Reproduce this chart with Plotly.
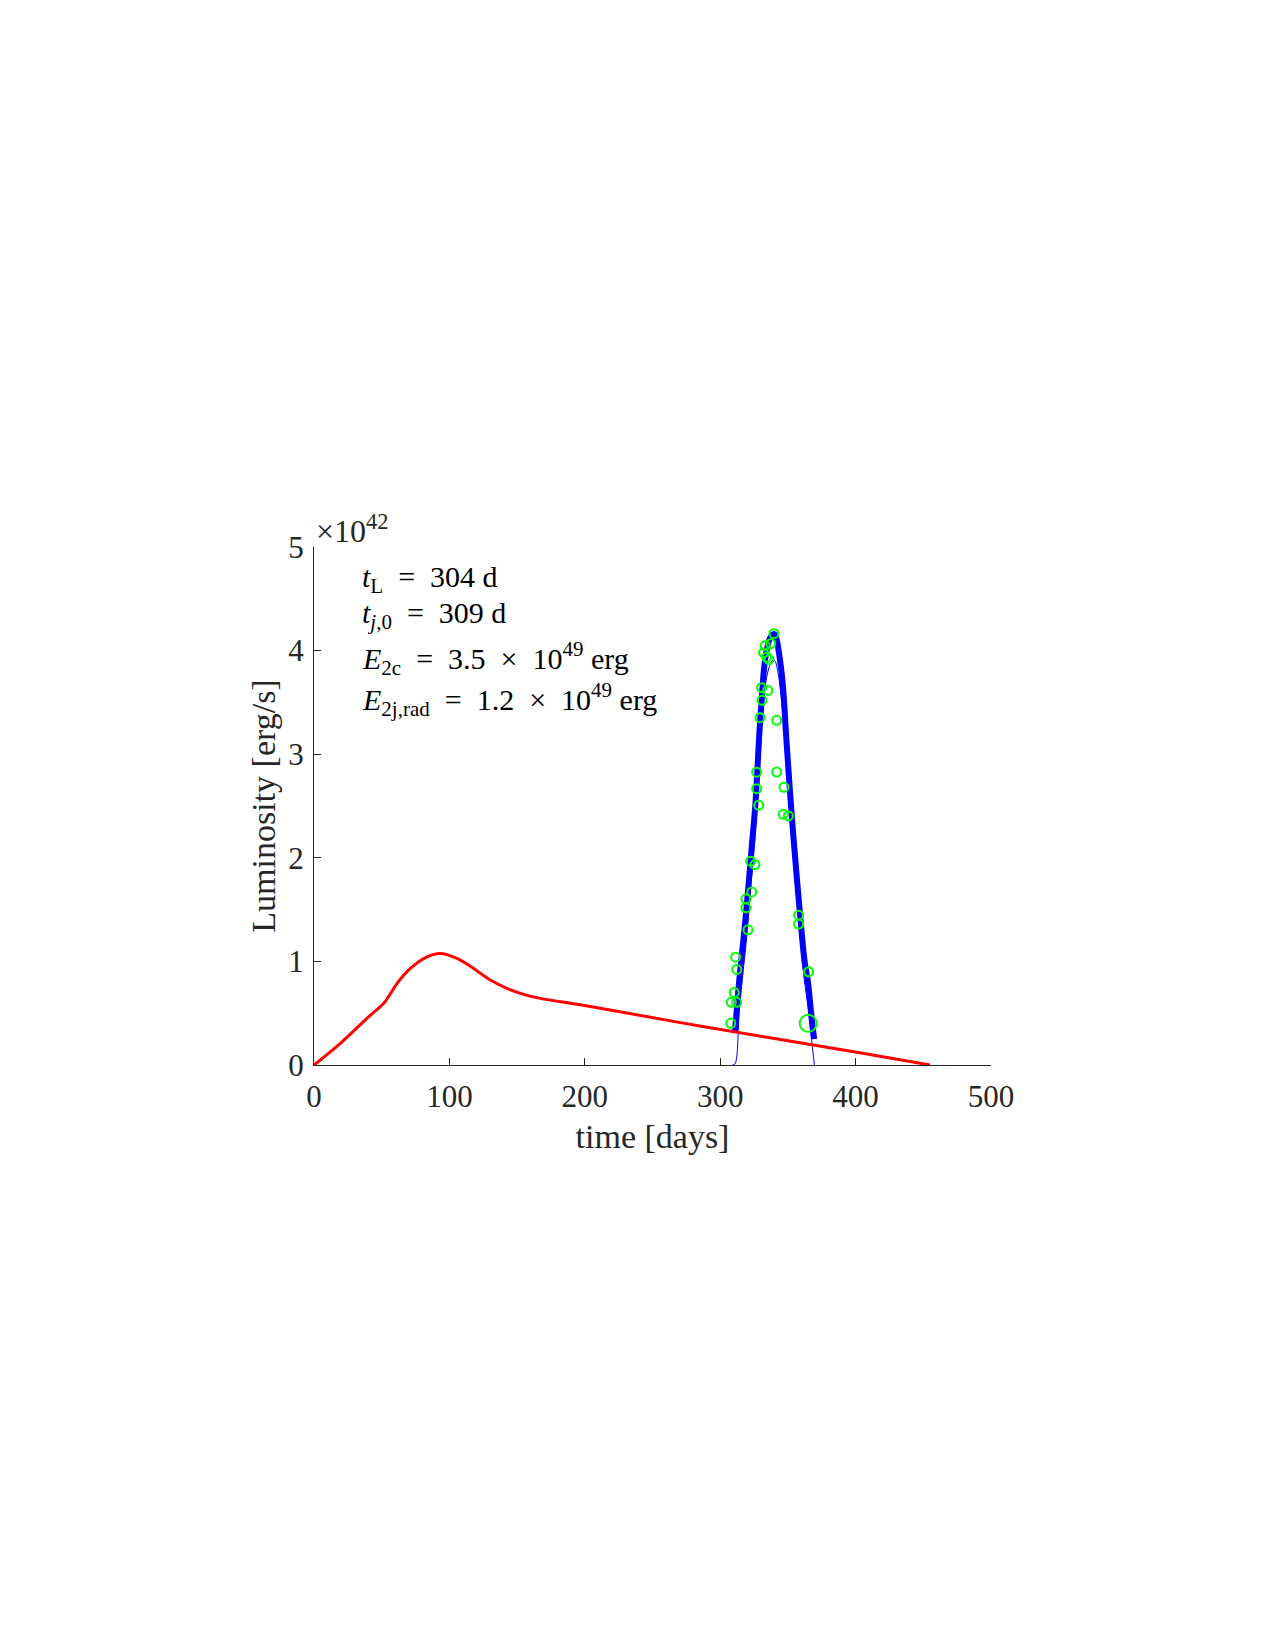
import plotly.graph_objects as go

# Red model curve (time in days, luminosity in 1e42 erg/s)
red_t = [0, 19.5, 41.7, 51.5, 61.4, 71.2, 83.5, 93.3, 105.6, 117.9, 130.2, 142.5, 154.8, 167.1, 200, 285, 403, 455]
red_L = [0, 0.209, 0.482, 0.595, 0.788, 0.932, 1.044, 1.077, 1.029, 0.932, 0.820, 0.740, 0.682, 0.643, 0.575, 0.376, 0.119, 0.0]

# Thick blue curve (total)
tot_t = [310.9, 314.1, 317.1, 319.1, 323.3, 326.2, 328.9, 330.6, 332.5, 334.3, 336.7, 339.4, 340.5,
         342.0, 343.6, 345.4, 347.1, 348.6, 352.0, 354.7, 358.9, 362.2, 365.0, 367.0, 369.4]
tot_L = [0.321, 0.820, 1.205, 1.463, 2.105, 2.555, 3.199, 3.520, 3.841, 4.002, 4.118, 4.160, 4.155,
         4.090, 3.960, 3.780, 3.520, 3.199, 2.555, 2.105, 1.463, 1.013, 0.780, 0.520, 0.250]

# Thin blue curve (jet alone)
jet_t = [309.0, 310.9, 314.1, 317.1, 319.1, 323.3, 326.2, 328.9, 330.6, 332.5, 334.3, 336.7, 339.0,
         340.5, 342.5, 345.0, 347.1, 348.6, 352.0, 354.7, 358.9, 362.2, 365.0, 367.0, 369.6]
jet_L = [0.0, 0.01, 0.52, 0.92, 1.17, 1.83, 2.29, 2.93, 3.26, 3.58, 3.74, 3.86, 3.91,
         3.90, 3.80, 3.56, 3.28, 2.96, 2.32, 1.88, 1.25, 0.81, 0.55, 0.30, 0.0]

# Observations (green circles)
obs_t = [339.7, 337.3, 333.3, 332.1, 334.3, 336.0, 330.6, 335.1, 330.9, 329.4, 341.7, 326.9, 341.7,
         326.9, 347.1, 328.4, 346.6, 350.3, 322.5, 325.7, 323.3, 319.0, 319.0, 357.9, 357.9, 320.5,
         311.4, 312.2, 365.3, 310.4, 308.2, 312.2, 307.8]
obs_L = [4.163, 4.067, 4.047, 3.980, 3.937, 3.912, 3.642, 3.616, 3.520, 3.353, 3.327, 2.826, 2.828,
         2.667, 2.681, 2.507, 2.420, 2.404, 1.967, 1.935, 1.671, 1.604, 1.517, 1.446, 1.360, 1.305,
         1.041, 0.923, 0.900, 0.701, 0.605, 0.605, 0.402]
big_t = [365.0]
big_L = [0.402]

x_ticks = [0, 100, 200, 300, 400, 500]
y_ticks = [0, 1, 2, 3, 4, 5]

FONT = "Liberation Serif"
TXT = "#262626"
NB = "\u2002"  # wider space, mimicking LaTeX spacing around '='

fig = go.Figure()
fig.add_trace(go.Scatter(x=tot_t, y=tot_L, mode="lines",
                         line=dict(color="#0000FF", width=6, shape="spline", smoothing=1.0),
                         showlegend=False))
fig.add_trace(go.Scatter(x=jet_t, y=jet_L, mode="lines",
                         line=dict(color="#0000FF", width=1, shape="spline", smoothing=1.0),
                         showlegend=False))
fig.add_trace(go.Scatter(x=red_t, y=red_L, mode="lines",
                         line=dict(color="#FF0000", width=3, shape="spline", smoothing=1.0),
                         showlegend=False))
fig.add_trace(go.Scatter(x=obs_t, y=obs_L, mode="markers",
                         marker=dict(symbol="circle-open", size=9, color="#00FF00", line=dict(width=2, color="#00FF00")),
                         showlegend=False))
fig.add_trace(go.Scatter(x=big_t, y=big_L, mode="markers",
                         marker=dict(symbol="circle-open", size=17, color="#00FF00", line=dict(width=2, color="#00FF00")),
                         showlegend=False))

texts = [
    f"<i>t</i><sub>L</sub>{NB}={NB}304 d",
    f"<i>t</i><sub><i>j</i>,0</sub>{NB}={NB}309 d",
    f"<i>E</i><sub>2c</sub>{NB}={NB}3.5{NB}×{NB}10<sup>49</sup> erg",
    f"<i>E</i><sub>2j,rad</sub>{NB}={NB}1.2{NB}×{NB}10<sup>49</sup> erg",
]
ys = [4.69, 4.34, 3.92, 3.53]
for t, yv in zip(texts, ys):
    fig.add_annotation(x=34.3, y=yv, xref="x", yref="y", text=t, showarrow=False,
                       xanchor="left", yanchor="middle", font=dict(family=FONT, size=30, color="#000000"))

fig.add_annotation(x=0, y=1.0, xref="paper", yref="paper", text="×10<sup>42</sup>", showarrow=False,
                   xanchor="left", yanchor="bottom", yshift=-4, xshift=0,
                   font=dict(family=FONT, size=32, color=TXT))

fig.update_layout(
    autosize=False, width=1275, height=1650,
    margin=dict(l=313.5, r=283.7, t=546.7, b=585, pad=0),
    paper_bgcolor="white", plot_bgcolor="white",
    font=dict(family=FONT, size=31, color=TXT),
    xaxis=dict(range=[0, 500], tickvals=x_ticks, ticktext=[str(v) for v in x_ticks],
               showline=True, linecolor=TXT, linewidth=1, ticks="inside", ticklen=7, tickcolor=TXT,
               showgrid=False, zeroline=False, mirror=False, ticklabelstandoff=4,
               title=dict(text="time [days]", font=dict(family=FONT, size=34, color=TXT), standoff=10),
               tickfont=dict(family=FONT, size=31, color=TXT)),
    yaxis=dict(range=[0, 5], tickvals=y_ticks, ticktext=[str(v) for v in y_ticks],
               showline=True, linecolor=TXT, linewidth=1, ticks="inside", ticklen=7, tickcolor=TXT,
               showgrid=False, zeroline=False, mirror=False, ticklabelstandoff=3,
               title=dict(text="Luminosity [erg/s]", font=dict(family=FONT, size=34, color=TXT), standoff=2),
               tickfont=dict(family=FONT, size=31, color=TXT)),
)

fig.write_html("out.html")
